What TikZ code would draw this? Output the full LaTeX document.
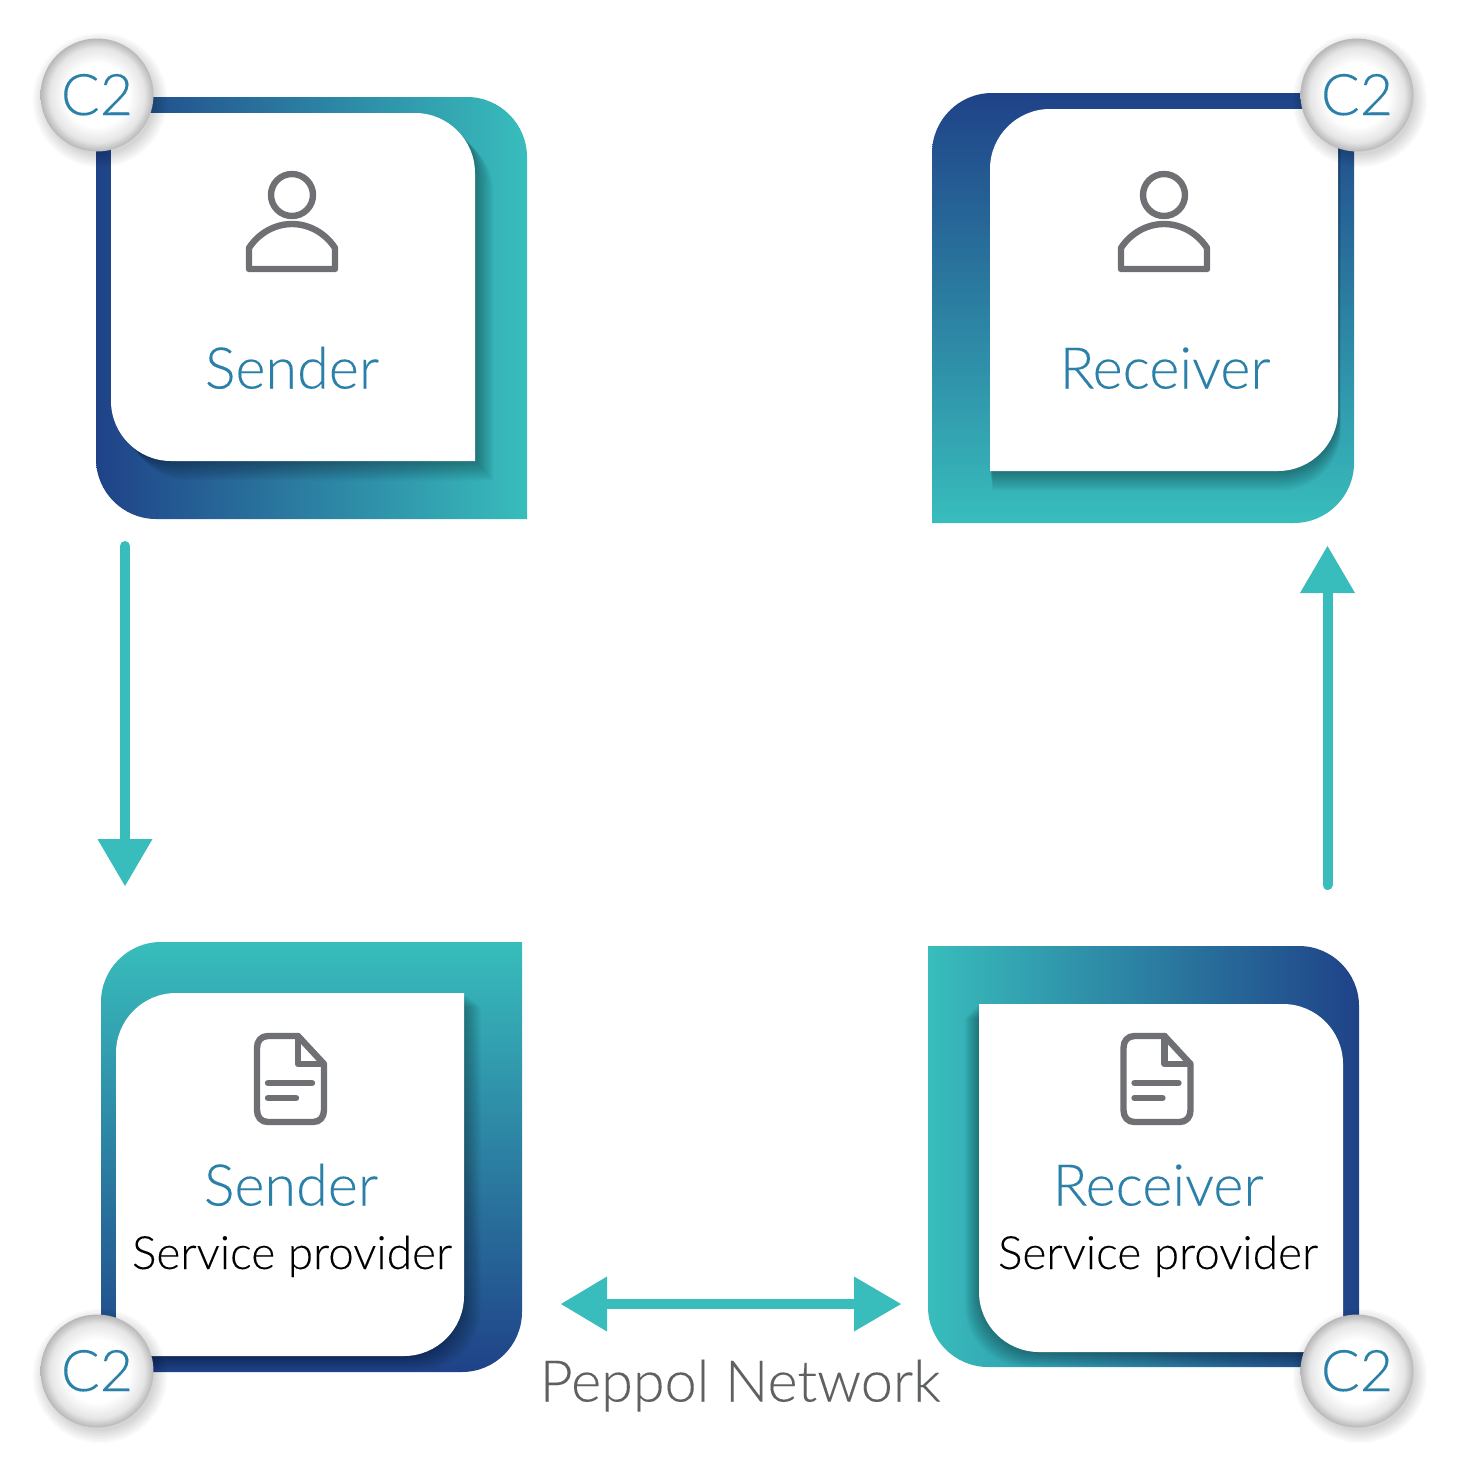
\documentclass[tikz,border=0pt]{standalone}
\usepackage{fontspec}
\setmainfont[FakeBold=0.12]{Lato Light}
\usetikzlibrary{arrows.meta}
\definecolor{navy}{HTML}{1F4288}
\definecolor{teal}{HTML}{38BDBC}
\definecolor{labelblue}{HTML}{2A80A8}
\definecolor{icongray}{HTML}{6F7074}
\definecolor{netgray}{HTML}{5F6062}
\pgfdeclareradialshading{ball}{\pgfpoint{0bp}{0bp}}{color(0bp)=(white);color(14bp)=(white);color(21bp)=(black!10);color(25bp)=(black!28);color(50bp)=(black!28)}
% corners top-right and bottom-left rounded
\newcommand\trbl[5]{(#1,#2) -- ({#3-#5},#2) .. controls ({#3-.45*#5},#2) and (#3,{#2+.45*#5}) .. (#3,{#2+#5}) -- (#3,#4) -- ({#1+#5},#4) .. controls ({#1+.45*#5},#4) and (#1,{#4-.45*#5}) .. (#1,{#4-#5}) -- cycle}
% corners top-left and bottom-right rounded
\newcommand\tlbr[5]{(#1,{#2+#5}) .. controls (#1,{#2+.45*#5}) and ({#1+.45*#5},#2) .. ({#1+#5},#2) -- (#3,#2) -- (#3,{#4-#5}) .. controls (#3,{#4-.45*#5}) and ({#3-.45*#5},#4) .. ({#3-#5},#4) -- (#1,#4) -- cycle}
\tikzset{
  x=1pt,y=-1pt,
  flow/.style={draw=teal,line width=10pt},
  flowtip/.style={-{Triangle[width=55pt,length=47pt,line width=0pt,fill=teal]}},
  title/.style={anchor=base,text=labelblue,font=\fontsize{57.5}{60}\selectfont,inner sep=0pt},
  sub/.style={anchor=base,text=black,font=\fontsize{46}{50}\selectfont,inner sep=0pt},
  net/.style={anchor=base,text=netgray,font=\fontsize{57.5}{60}\selectfont,inner sep=0pt},
  badge/.style={circle,minimum size=113pt,inner sep=0pt,shading=ball,text=labelblue,font=\fontsize{57.5}{60}\selectfont},
  icon/.style={draw=icongray,line width=6.4pt,line join=round,line cap=round},
  softshadow/.style={fill=black,opacity=.024},
}
\newcommand\person[1]{%
  \begin{scope}[shift={(#1,0)}]
    \draw[icon] (0,195) circle (21pt);
    \draw[icon] (-43,269) -- (-43,248) .. controls (-34,234) and (-18,224) .. (0,224) .. controls (18,224) and (34,234) .. (43,248) -- (43,269) -- cycle;
  \end{scope}}
\newcommand\docicon[1]{%
  \begin{scope}[shift={(#1,0)}]
    \draw[icon] (-33,1048) .. controls (-33,1041) and (-29,1036) .. (-22,1036) -- (8,1036) -- (34,1064) -- (34,1110) .. controls (34,1117) and (30,1122) .. (23,1122) -- (-22,1122) .. controls (-29,1122) and (-33,1117) .. (-33,1110) -- cycle;
    \draw[icon] (8,1036) -- (8,1064) -- (32,1064);
    \draw[icon] (-22,1083) -- (22,1083);
    \draw[icon] (-22,1098) -- (6,1098);
  \end{scope}}
\begin{document}
\begin{tikzpicture}
\useasboundingbox (0,0) rectangle (1459,1459);
\fill[white] (0,0) rectangle (1459,1459);
% top-left box
\shade[left color=navy,right color=teal] \trbl{96}{97}{527}{519}{60};
\begin{scope}
  \clip \trbl{96}{97}{527}{519}{60};
  \foreach \i in {1,...,14}{\path[softshadow,shift={({1.3*\i},{1.4*\i})}] \trbl{111}{113}{475}{461}{60};}
\end{scope}
\fill[white] \trbl{111}{113}{475}{461}{60};
% top-right box
\shade[top color=navy,bottom color=teal] \tlbr{932}{93}{1354}{523}{60};
\begin{scope}
  \clip \tlbr{932}{93}{1354}{523}{60};
  \foreach \i in {1,...,14}{\path[softshadow,shift={({.2*\i},{1.4*\i})}] \tlbr{990}{109}{1338}{471}{60};}
\end{scope}
\fill[white] \tlbr{990}{109}{1338}{471}{60};
% bottom-left box
\shade[top color=teal,bottom color=navy] \tlbr{101}{942}{522}{1372}{60};
\begin{scope}
  \clip \tlbr{101}{942}{522}{1372}{60};
  \foreach \i in {1,...,14}{\path[softshadow,shift={({1.2*\i},{1.0*\i})}] \tlbr{116}{993}{464}{1356}{60};}
\end{scope}
\fill[white] \tlbr{116}{993}{464}{1356}{60};
% bottom-right box
\shade[left color=teal,right color=navy] \trbl{928}{946}{1359}{1367}{60};
\begin{scope}
  \clip \trbl{928}{946}{1359}{1367}{60};
  \foreach \i in {1,...,14}{\path[softshadow,shift={({-1.0*\i},{1.0*\i})}] \trbl{979}{1004}{1343}{1352}{60};}
\end{scope}
\fill[white] \trbl{979}{1004}{1343}{1352}{60};
% icons
\person{292}
\person{1164}
\docicon{290}
\docicon{1156.5}
% labels
\node[title] (senderlabel) at (292,388.5) {Sender};
\node[title] (receiverlabel) at (1165,388.5) {Receiver};
\node[title] (spsenderlabel) at (291,1205.5) {Sender};
\node[title] (spreceiverlabel) at (1158,1205.5) {Receiver};
\node[sub] (spsender) at (292,1269) {Service provider};
\node[sub] (spreceiver) at (1158,1269) {Service provider};
\node[net] (network) at (740,1401.5) {Peppol Network};
% badges
\foreach \nm/\cx/\cy in {a/97/95,b/1357/95,c/97/1371,d/1357/1371}{
  \foreach \r in {55,57,...,67}{\fill[black,opacity=.024] ({\cx+3},{\cy+5}) circle (\r pt);}
  \node[badge] (badge\nm) at (\cx,\cy) {\raisebox{1pt}{C2}};
}
% connectors
\coordinate (a1) at (125,546);
\coordinate (a2) at (125,886);
\coordinate (b1) at (1327.5,885);
\coordinate (b2) at (1327.5,546);
\coordinate (c1) at (561,1304);
\coordinate (c2) at (901,1304);
\draw[flow,line cap=round,flowtip] (a1) -- (a2);
\draw[flow,line cap=round,flowtip] (b1) -- (b2);
\draw[flow,{Triangle[width=55pt,length=46pt,line width=0pt,fill=teal]}-{Triangle[width=55pt,length=47pt,line width=0pt,fill=teal]}] (c1) -- (c2);
\end{tikzpicture}
\end{document}
